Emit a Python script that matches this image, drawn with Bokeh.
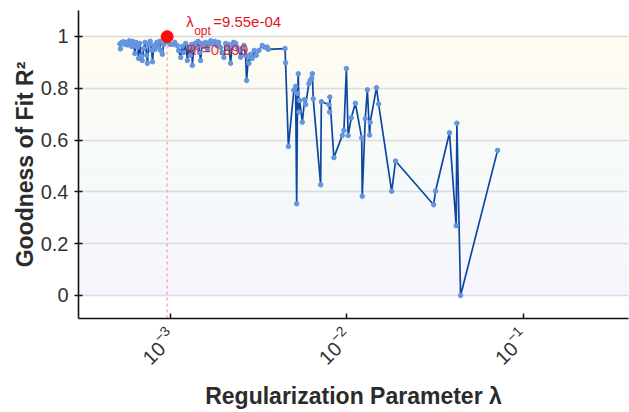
import numpy as np
from bokeh.plotting import figure
from bokeh.models import Label, FixedTicker, Range1d, ColumnDataSource
from bokeh.embed import file_html
from bokeh.resources import INLINE

# log10 of the regularization parameter lambda (sorted), and R^2 at each
log_lambda = [
    -3.288, -3.285, -3.278, -3.268, -3.261, -3.252, -3.244, -3.235, -3.227, -3.221,
    -3.216, -3.208, -3.203, -3.196, -3.187, -3.182, -3.176, -3.167, -3.161, -3.153,
    -3.145, -3.136, -3.132, -3.125, -3.116, -3.108, -3.103, -3.096, -3.088, -3.079,
    -3.071, -3.062, -3.057, -3.047, -3.040, -3.028, -3.020, -3.011, -3.003, -2.986,
    -2.977, -2.963, -2.955, -2.943, -2.935, -2.926, -2.915, -2.905, -2.898, -2.889,
    -2.881, -2.877, -2.870, -2.861, -2.853, -2.844, -2.836, -2.830, -2.821, -2.813,
    -2.802, -2.790, -2.782, -2.773, -2.762, -2.750, -2.739, -2.728, -2.716, -2.708,
    -2.698, -2.688, -2.680, -2.671, -2.660, -2.651, -2.643, -2.631, -2.623, -2.613,
    -2.603, -2.594, -2.584, -2.575, -2.569, -2.559, -2.556, -2.546, -2.537, -2.526,
    -2.514, -2.499, -2.480, -2.467, -2.452, -2.447, -2.351, -2.348, -2.332, -2.301,
    -2.291, -2.285, -2.280, -2.276, -2.272, -2.268, -2.253, -2.240, -2.234, -2.216,
    -2.209, -2.200, -2.196, -2.191, -2.149, -2.145, -2.102, -2.098, -2.097, -2.074,
    -2.026, -2.017, -2.003, -1.993, -1.975, -1.952, -1.916, -1.913, -1.896, -1.884,
    -1.871, -1.868, -1.832, -1.820, -1.746, -1.724, -1.508, -1.497, -1.418, -1.380,
    -1.376, -1.355, -1.145,
]
r2 = [
    0.971, 0.952, 0.977, 0.979, 0.969, 0.977, 0.967, 0.983, 0.973, 0.961,
    0.981, 0.963, 0.934, 0.977, 0.958, 0.915, 0.973, 0.923, 0.907, 0.954,
    0.977, 0.927, 0.896, 0.969, 0.981, 0.946, 0.902, 0.965, 0.950, 0.977,
    0.961, 0.981, 0.946, 0.931, 0.969, 0.977, 0.999, 0.985, 0.969, 0.969,
    0.977, 0.965, 0.946, 0.919, 0.961, 0.938, 0.973, 0.907, 0.958, 0.927,
    0.969, 0.888, 0.946, 0.973, 0.958, 0.981, 0.938, 0.907, 0.973, 0.961,
    0.977, 0.950, 0.969, 0.983, 0.973, 0.981, 0.965, 0.977, 0.958, 0.938,
    0.919, 0.973, 0.954, 0.969, 0.896, 0.965, 0.977, 0.973, 0.958, 0.946,
    0.920, 0.954, 0.965, 0.927, 0.830, 0.920, 0.896, 0.931, 0.915, 0.946,
    0.927, 0.946, 0.965, 0.958, 0.959, 0.950, 0.953, 0.898, 0.575, 0.792,
    0.807, 0.354, 0.780, 0.856, 0.708, 0.753, 0.669, 0.756, 0.737, 0.817,
    0.830, 0.839, 0.856, 0.759, 0.427, 0.748, 0.737, 0.708, 0.766, 0.532,
    0.618, 0.637, 0.876, 0.617, 0.686, 0.742, 0.608, 0.383, 0.682, 0.794,
    0.619, 0.668, 0.802, 0.739, 0.402, 0.519, 0.350, 0.403, 0.628, 0.269,
    0.665, 0.000, 0.560,
]
lam = [10 ** v for v in log_lambda]

lambda_opt = 9.55e-4
r2_opt = 0.999

x_ticks = [1e-3, 1e-2, 1e-1]
y_ticks = [0, 0.2, 0.4, 0.6, 0.8, 1.0]
y_tick_labels = ["0", "0.2", "0.4", "0.6", "0.8", "1"]

FONT = "Liberation Sans"

x_range = Range1d(3.0e-4, 0.396)
y_range = Range1d(-0.089, 1.1)

p = figure(width=629, height=412, x_axis_type="log",
           x_range=x_range, y_range=y_range,
           output_backend="svg", toolbar_location=None,
           min_border_left=78, min_border_right=1,
           min_border_top=10, min_border_bottom=94)
p.outline_line_color = None
p.background_fill_color = "white"
p.border_fill_color = "white"

# soft vertical gradient behind the data between R^2 = 0 and 1
n_bands = 50
edges = np.linspace(0.0, 1.0, n_bands + 1)
top_c = np.array([255, 251, 240])
mid_c = np.array([245, 250, 249])
bot_c = np.array([246, 244, 253])
cols = []
for i in range(n_bands):
    t = (edges[i] + edges[i + 1]) / 2  # 0 bottom .. 1 top
    if t > 0.5:
        c = mid_c + (top_c - mid_c) * (t - 0.5) / 0.5
    else:
        c = bot_c + (mid_c - bot_c) * t / 0.5
    cols.append("#%02x%02x%02x" % tuple(int(round(v)) for v in c))
bg = p.quad(left=[x_range.start] * n_bands, right=[x_range.end] * n_bands,
            bottom=edges[:-1], top=edges[1:], fill_color=cols, line_color=None)
bg.level = "image"

# grid
p.xgrid.visible = False
p.ygrid.ticker = FixedTicker(ticks=y_ticks)
p.ygrid.grid_line_color = "#dcdcdc"
p.ygrid.grid_line_width = 1.5

# data
src = ColumnDataSource(dict(x=lam, y=r2))
p.line("x", "y", source=src, line_color="#0d47a1", line_width=1.7)
p.scatter("x", "y", source=src, size=4.5, fill_color="#6495e0", line_color="#6495e0")

# optimum marker
p.line([lambda_opt, lambda_opt], [y_range.start, r2_opt], line_color="#f4a0aa",
       line_dash="3 3", line_width=1.2)
p.scatter([lambda_opt], [r2_opt], size=12, fill_color="#ff0a0a", line_color="#ff0a0a")

RED = "#e8141c"
p.add_layout(Label(x=lambda_opt, y=r2_opt, x_offset=19, y_offset=15, text="λ",
                   text_color=RED, text_font=FONT, text_font_size="15px",
                   text_baseline="alphabetic"))
p.add_layout(Label(x=lambda_opt, y=r2_opt, x_offset=27, y_offset=6, text="opt",
                   text_color=RED, text_font=FONT, text_font_size="12px",
                   text_baseline="alphabetic"))
p.add_layout(Label(x=lambda_opt, y=r2_opt, x_offset=46, y_offset=15, text="=9.55e-04",
                   text_color=RED, text_font=FONT, text_font_size="15px",
                   text_baseline="alphabetic"))
p.add_layout(Label(x=lambda_opt, y=r2_opt, x_offset=19, y_offset=-13, text="R²=0.999",
                   text_color=RED, text_font=FONT, text_font_size="15px",
                   text_baseline="alphabetic", text_alpha=0.9))

# axes
xa = p.xaxis[0]
xa.ticker = FixedTicker(ticks=x_ticks, minor_ticks=[])
xa.axis_label = "Regularization Parameter λ"
xa.major_label_orientation = np.pi / 4
xa.major_tick_in = 5
xa.major_tick_out = 0
xa.minor_tick_line_color = None
xa.major_label_standoff = 13
xa.axis_label_standoff = 7

ya = p.yaxis[0]
ya.ticker = FixedTicker(ticks=y_ticks, minor_ticks=[])
ya.major_label_overrides = {t: s for t, s in zip(y_ticks, y_tick_labels)}
ya.axis_label = "Goodness of Fit R²"
ya.major_tick_in = 4
ya.major_tick_out = 4
ya.minor_tick_line_color = None
ya.axis_label_standoff = 0

for ax in (xa, ya):
    ax.axis_line_color = "#111111"
    ax.axis_line_width = 1.6
    ax.major_tick_line_color = "#111111"
    ax.major_tick_line_width = 1.5
    ax.major_label_text_font = FONT
    ax.major_label_text_font_size = "20px"
    ax.major_label_text_color = "#333333"
    ax.axis_label_text_font = FONT
    ax.axis_label_text_font_size = "23px"
    ax.axis_label_text_font_style = "bold"
    ax.axis_label_text_color = "#2b2b2b"
ya.major_label_standoff = 6

open("out.html", "w").write(file_html(p, INLINE))
